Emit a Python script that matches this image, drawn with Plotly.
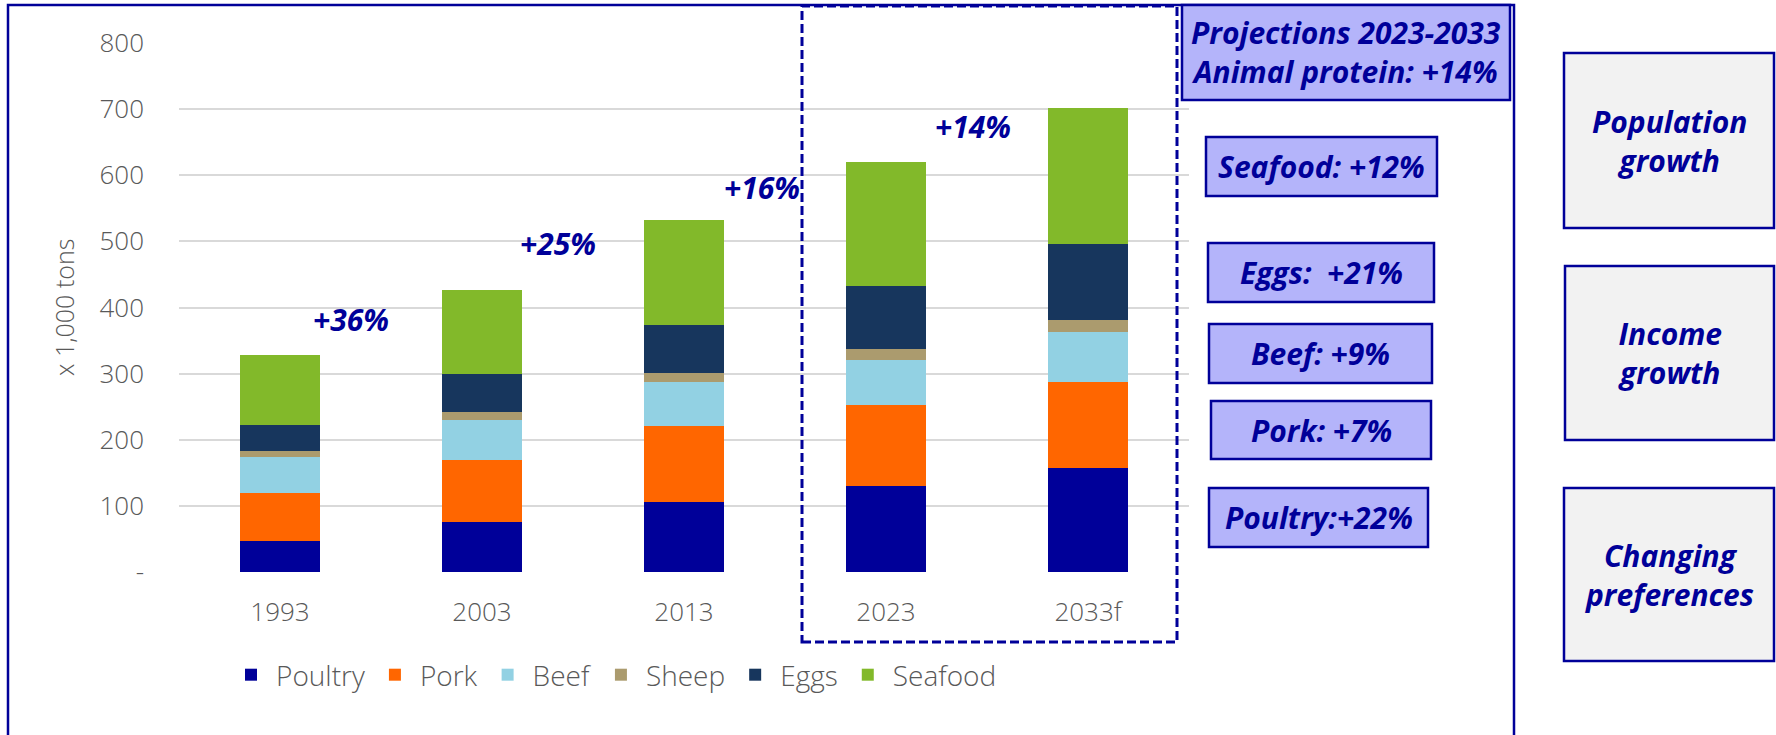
import plotly.graph_objects as go

# ---------------- data ----------------
categories = ["1993", "2003", "2013", "2023", "2033f"]
series_names = ["Poultry", "Pork", "Beef", "Sheep", "Eggs", "Seafood"]
poultry = [47, 76, 106, 130, 158]
pork = [73, 93, 115, 122, 130]
beef = [53.5, 61.5, 66.5, 69, 75]
sheep = [10, 11, 13.5, 16, 18]
eggs = [39, 58, 72.5, 96, 115]
seafood = [105, 127.5, 158.5, 186.5, 205.5]

y_tick_values = [0, 100, 200, 300, 400, 500, 600, 700, 800]
y_tick_labels = ["-", "100", "200", "300", "400", "500", "600", "700", "800"]

growth_labels = ["+36%", "+25%", "+16%", "+14%"]
projection_title = "Projections 2023-2033<br>Animal protein: +14%"
projection_labels = ["Seafood: +12%", "Eggs:\u00a0 +21%", "Beef: +9%", "Pork: +7%", "Poultry:+22%"]
driver_labels = ["Population<br>growth", "Income<br>growth", "Changing<br>preferences"]

# ---------------- styles ----------------
colors = ["#000099", "#FF6600", "#92D1E3", "#AB9B6E", "#17365D", "#82B92A"]
DARK = "#000099"
GRAY_TXT = "#595959"
FONT = "Open Sans"

W_PX, H_PX = 1776, 735
L, T = 179, 43
PW, PH = 1010, 529
R = W_PX - L - PW
B = H_PX - T - PH


def px(x):
    return (x - L) / PW


def py(y):
    return (T + PH - y) / PH


fig = go.Figure()
for name, vals, col in zip(series_names, [poultry, pork, beef, sheep, eggs, seafood], colors):
    fig.add_trace(go.Bar(name=name, x=categories, y=vals, marker_color=col,
                         marker_line_width=0))

shapes = []
annotations = []

# outer frame
shapes.append(dict(type="rect", xref="paper", yref="paper", x0=px(8), x1=px(1514),
                   y0=py(770), y1=py(5), line=dict(color=DARK, width=2.5), layer="above"))
# dashed projection rectangle
shapes.append(dict(type="rect", xref="paper", yref="paper", x0=px(802), x1=px(1177),
                   y0=py(642), y1=py(6), line=dict(color=DARK, width=3, dash="9px,4px"),
                   layer="above"))

BOX_FONT = dict(family=FONT, size=30, color=DARK, weight="bold", style="italic")

# blue boxes
blue_boxes = [(1182, 1510, 5, 100)] + [
    (1206, 1437, 137, 196), (1208, 1434, 243, 302), (1209, 1432, 324, 383),
    (1211, 1431, 401, 459), (1209, 1428, 488, 547)]
blue_texts = [projection_title] + projection_labels
for (x0, x1, y0, y1), txt in zip(blue_boxes, blue_texts):
    shapes.append(dict(type="rect", xref="paper", yref="paper", x0=px(x0), x1=px(x1),
                       y0=py(y1), y1=py(y0), fillcolor="#B4B4FA",
                       line=dict(color=DARK, width=2.5), layer="above"))
    annotations.append(dict(xref="paper", yref="paper", x=px((x0 + x1) / 2), y=py((y0 + y1) / 2),
                            text=txt, showarrow=False, xanchor="center", yanchor="middle",
                            font=BOX_FONT))

# gray driver boxes
gray_boxes = [(1564, 1774, 53, 228), (1565, 1774, 266, 440), (1564, 1774, 488, 661)]
for (x0, x1, y0, y1), txt in zip(gray_boxes, driver_labels):
    shapes.append(dict(type="rect", xref="paper", yref="paper", x0=px(x0), x1=px(x1),
                       y0=py(y1), y1=py(y0), fillcolor="#F2F2F2",
                       line=dict(color=DARK, width=2.5), layer="above"))
    annotations.append(dict(xref="paper", yref="paper", x=px((x0 + x1) / 2), y=py((y0 + y1) / 2),
                            text=txt, showarrow=False, xanchor="center", yanchor="middle",
                            font=BOX_FONT))

# growth labels
growth_pos = [(351, 319), (558, 244), (762, 188), (973, 127)]
for (x, y), txt in zip(growth_pos, growth_labels):
    annotations.append(dict(xref="paper", yref="paper", x=px(x), y=py(y), text=txt,
                            showarrow=False, xanchor="center", yanchor="middle",
                            font=BOX_FONT))

# y axis title
annotations.append(dict(xref="paper", yref="paper", x=px(64), y=py(308), text="x 1,000 tons",
                        showarrow=False, textangle=-90, xanchor="center", yanchor="middle",
                        font=dict(family=FONT, size=25, color=GRAY_TXT, weight=300)))

fig.update_layout(
    barmode="stack",
    bargap=0.6,
    width=W_PX, height=H_PX,
    margin=dict(l=L, r=R, t=T, b=B, autoexpand=False),
    paper_bgcolor="white",
    plot_bgcolor="white",
    font=dict(family=FONT, color=GRAY_TXT),
    shapes=shapes,
    annotations=annotations,
    showlegend=True,
    legend=dict(orientation="h", x=px(226), y=py(675), xanchor="left", yanchor="middle",
                itemwidth=40,
                font=dict(family=FONT, size=28, color=GRAY_TXT, weight=300),
                traceorder="normal", bgcolor="rgba(0,0,0,0)"),
)
fig.update_xaxes(type="category", showgrid=False, showline=False, ticks="",
                 tickfont=dict(family=FONT, size=26, color=GRAY_TXT, weight=300),
                 ticklabelstandoff=22, zeroline=False)
fig.update_yaxes(range=[0, 800], tickvals=y_tick_values, ticktext=y_tick_labels,
                 showgrid=True, gridcolor="#D9D9D9", gridwidth=1.5, zeroline=False,
                 showline=False, ticks="",
                 tickfont=dict(family=FONT, size=26, color=GRAY_TXT, weight=300),
                 ticklabelstandoff=34)

fig.write_html("out.html", config={"displayModeBar": False},
               post_script="document.body.style.margin='0px';")
